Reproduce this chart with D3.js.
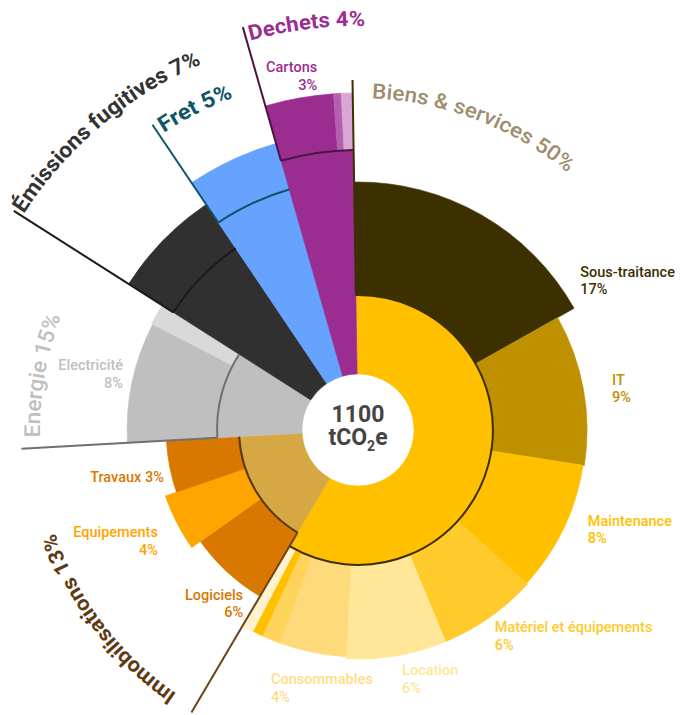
<!DOCTYPE html>
<html>
<head>
<meta charset="utf-8">
<script src="https://cdn.jsdelivr.net/npm/d3@7"></script>
<style>
  body { margin: 0; background: #fff; }
  svg text { font-family: Roboto, "DejaVu Sans", sans-serif; }
</style>
</head>
<body>
<svg id="chart" width="694" height="715"></svg>
<script>
// ---- data ----
// inner ring : main categories
const categories = ["Biens & services", "Immobilisations", "Energie", "Émissions fugitives", "Fret", "Dechets"];
const categoryPct = [50, 13, 15, 7, 5, 4];
const categoryDepth = [26.3, 21, 28.3, 54.3, 64.7, 74.7];   // radial depth of the inner ring

// outer ring : sub categories (values in tCO2e)
const subNames = ["Sous-traitance", "IT", "Maintenance", "Matériel et équipements", "Location", "Consommables",
  "Autres achats", "Alimentation", "Divers", "Logiciels", "Equipements", "Travaux",
  "Electricité", "Chaleur", "Gaz frigorigènes", "Transport", "Cartons", "Plastiques", "Autres déchets"];
const subParent = [0, 0, 0, 0, 0, 0, 0, 0, 0, 1, 1, 1, 2, 2, 3, 4, 5, 5, 5];
const subValue = [188, 117, 102, 77, 78, 52, 15, 8, 9, 74, 50, 48, 93, 16, 72, 55, 36, 4, 6];
const subPct = [17, 9, 8, 6, 6, 4, null, null, null, 6, 4, 3, 8, null, null, null, 3, null, null];
const subDepth = [64, 57.7, 57.3, 57.7, 57.7, 57, 57, 57, 57.3, 45.7, 49.2, 45.3, 58.3, 58.7, 72, 80.7, 93.7, 93.7, 93.7];

const total = 1100;

// ---- styles ----
const catFill = ["#FFC000", "#D6A843", "#BFBFBF", "#303030", "#66A3FF", "#9B2D91"];
const catArcStroke = ["#3D2E00", "#5A3A10", "#707070", "#1A1A1A", "#0E5566", "#4A1540"];
const catLineColor = ["#3D3000", "#6B4516", "#707070", "#1A1A1A", "#0E5566", "#4A1540"];
const catTextColor = ["#9E8C6C", "#5E3A12", "#BFBFBF", "#333333", "#0E5566", "#9B2D91"];
const subFill = ["#3D3000", "#BF9000", "#FFC000", "#FFCA2C", "#FFE699", "#FFDA7A", "#FFD35C", "#FFC000", "#FFF2CC",
  "#D97800", "#FFA500", "#D97800", "#BFBFBF", "#D9D9D9", "#303030", "#66A3FF", "#9B2D91", "#B560AE", "#D9A6D6"];
const subTextColor = ["#3D3000", "#BF9000", "#FFC000", "#FFCA2C", "#FFE699", "#FFDD85", null, null, null,
  "#D97800", "#FFA500", "#D97800", "#BFBFBF", null, null, null, "#9B2D91", null, null];

// label placement (angle in degrees from top, radius px, anchor)
const catLabelLayout = [
  { lineEnd: 350, base: 332, offset: 3.3, len: 213, size: 21, weight: 500 },
  { lineEnd: 328, base: 320, offset: 4.0, len: 205, size: 21, weight: 700 },
  { lineEnd: 337, base: 318, offset: 1.9, len: 123, size: 22, weight: 500 },
  { lineEnd: 408, base: 398, offset: 0.4, len: 236, size: 22, weight: 700 },
  { lineEnd: 368, base: 355, offset: 0.8, len: 78, size: 22, weight: 700 },
  { lineEnd: 419, base: 404, offset: 0.5, len: 116, size: 21, weight: 700 }
];
const subLabelLayout = {
  "Sous-traitance": [55.4, 270, "start"],
  "IT": [79.95, 258, "start"],
  "Maintenance": [112.65, 249, "start"],
  "Matériel et équipements": [145.9, 244, "start"],
  "Location": [169.8, 249, "start"],
  "Consommables": [198.9, 268.5, "start"],
  "Logiciels": [214.1, 205, "end"],
  "Equipements": [241.85, 227, "end"],
  "Travaux": [255, 201, "end", true],
  "Electricité": [284.3, 242.5, "end"],
  "Cartons": [353.5, 360, "end"]
};

const cx = 358, cy = 430;
const rad = d => d * Math.PI / 180;
const startAngle = rad(-0.9);

const svg = d3.select("#chart");
const g = svg.append("g").attr("transform", "translate(" + cx + "," + cy + ")");

const r = d3.scaleLinear().domain([0, 100]).range([56, 356]);

const pie = d3.pie()
  .sort(null)
  .value(d => d)
  .startAngle(startAngle)
  .endAngle(startAngle + 2 * Math.PI);

const subArcs = pie(subValue);

// category angular extent from its children
let catAngles = categories.map((c, i) => {
  let kids = subArcs.filter((a, j) => subParent[j] === i);
  return { start: d3.min(kids, k => k.startAngle), end: d3.max(kids, k => k.endAngle) };
});

const arc = d3.arc()
  .innerRadius(d => d.r0)
  .outerRadius(d => d.r1)
  .startAngle(d => d.a0)
  .endAngle(d => d.a1);

function polar(a, radius) {
  return [radius * Math.sin(a), -radius * Math.cos(a)];
}

function arcLine(radius, a0, a1) {
  let p = d3.path();
  let s = polar(a0, radius);
  p.moveTo(s[0], s[1]);
  p.arc(0, 0, radius, a0 - Math.PI / 2, a1 - Math.PI / 2);
  return p.toString();
}

// outer ring
g.selectAll(".sub")
  .data(subArcs.map((a, i) => ({ a0: a.startAngle, a1: a.endAngle, r0: r(categoryDepth[subParent[i]]), r1: r(subDepth[i]), i: i })))
  .enter().append("path")
  .attr("class", "sub")
  .attr("d", arc)
  .attr("fill", d => subFill[d.i])
  .attr("stroke", d => subFill[d.i])
  .attr("stroke-width", 0.6);

// inner ring
g.selectAll(".cat")
  .data(catAngles.map((c, i) => ({ a0: c.start, a1: c.end, r0: r(0), r1: r(categoryDepth[i]), i: i })))
  .enter().append("path")
  .attr("class", "cat")
  .attr("d", arc)
  .attr("fill", d => catFill[d.i])
  .attr("stroke", d => catFill[d.i])
  .attr("stroke-width", 0.6);

// arc separating inner and outer ring
g.selectAll(".catArc")
  .data(catAngles)
  .enter().append("path")
  .attr("class", "catArc")
  .attr("d", (c, i) => arcLine(r(categoryDepth[i]), c.start, c.end))
  .attr("fill", "none")
  .attr("stroke", (c, i) => catArcStroke[i])
  .attr("stroke-width", 2);

// radial lines at each category start
g.selectAll(".catLine")
  .data(catAngles)
  .enter().append("line")
  .attr("class", "catLine")
  .attr("x1", (c, i) => polar(c.start, r(categoryDepth[i]))[0])
  .attr("y1", (c, i) => polar(c.start, r(categoryDepth[i]))[1])
  .attr("x2", (c, i) => polar(c.start, catLabelLayout[i].lineEnd)[0])
  .attr("y2", (c, i) => polar(c.start, catLabelLayout[i].lineEnd)[1])
  .attr("stroke", (c, i) => catLineColor[i])
  .attr("stroke-width", 2);

// curved category labels
const defs = svg.append("defs");
catAngles.forEach((c, i) => {
  let L = catLabelLayout[i];
  let a0 = c.start + rad(L.offset);
  let a1 = a0 + L.len / L.base + 0.3;
  defs.append("path")
    .attr("id", "catPath" + i)
    .attr("d", arcLine(L.base, a0, a1));
  g.append("text")
    .attr("fill", catTextColor[i])
    .style("font-size", L.size + "px")
    .style("font-weight", L.weight)
    .append("textPath")
    .attr("href", "#catPath" + i)
    .attr("textLength", L.len)
    .attr("lengthAdjust", "spacingAndGlyphs")
    .text(categories[i] + " " + categoryPct[i] + "%");
});

// sub category labels
subNames.forEach((name, i) => {
  let pos = subLabelLayout[name];
  if (!pos || subPct[i] == null) return;
  let p = polar(rad(pos[0]), pos[1]);
  let t = g.append("text")
    .attr("x", p[0])
    .attr("y", p[1])
    .attr("text-anchor", pos[2])
    .attr("fill", subTextColor[i])
    .style("font-size", "14.5px")
    .style("font-weight", 500);
  if (pos[3]) {
    t.text(name + " " + subPct[i] + "%");
  } else {
    t.append("tspan").attr("x", p[0]).text(name);
    t.append("tspan").attr("x", p[0]).attr("dy", 17.5).text(subPct[i] + "%");
  }
});

// center total
const center = g.append("text")
  .attr("text-anchor", "middle")
  .attr("fill", "#444")
  .style("font-size", "23px")
  .style("font-weight", 700);
center.append("tspan").attr("x", 0).attr("y", -8).text(total);
const line2 = center.append("tspan").attr("x", 0).attr("y", 15);
line2.text("tCO");
center.append("tspan").attr("dy", 6).style("font-size", "14px").text("2");
center.append("tspan").attr("dy", -6).text("e");
</script>
</body>
</html>
